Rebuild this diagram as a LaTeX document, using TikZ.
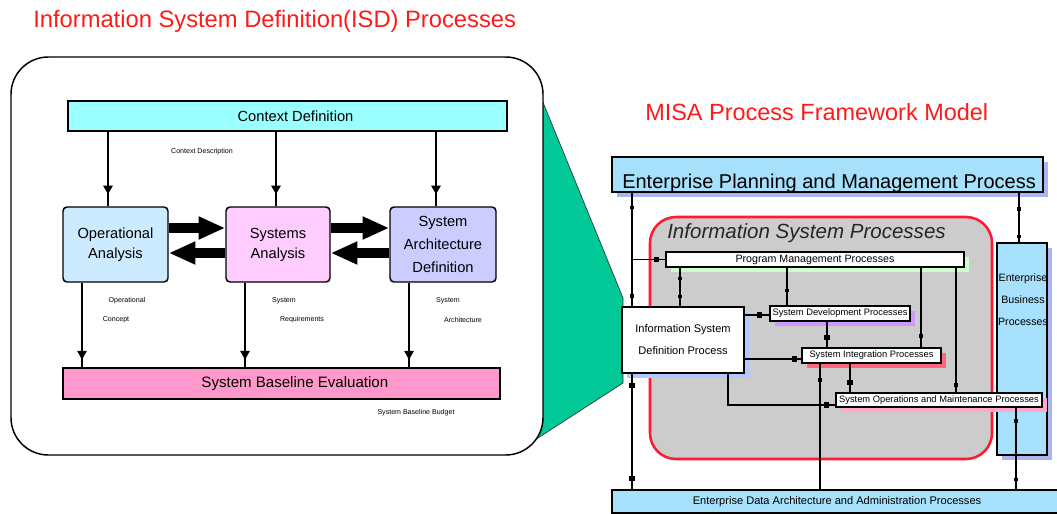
\documentclass[tikz,border=0pt]{standalone}
\usepackage{fontspec}
\setmainfont{Liberation Sans}
\usetikzlibrary{arrows.meta,decorations.markings,shadows}
\newlength\pxu \setlength\pxu{0.75pt}
\newcommand\fsz[2]{\fontsize{#1}{#2}\selectfont}
\definecolor{titlered}{HTML}{FF1A1A}
\definecolor{ctxcyan}{HTML}{99FFFF}
\definecolor{opblue}{HTML}{CCEBFF}
\definecolor{syspink}{HTML}{FFCCFF}
\definecolor{archlav}{HTML}{CCCCFF}
\definecolor{basepink}{HTML}{FF99CC}
\definecolor{sea}{HTML}{00C896}
\definecolor{skyfill}{HTML}{A6E0FA}
\definecolor{skyshade}{HTML}{A8B6F2}
\definecolor{ispgray}{HTML}{CCCCCC}
\definecolor{ispred}{HTML}{FF1A33}
\definecolor{pmshade}{HTML}{CCFFCC}
\definecolor{devshade}{HTML}{CC99FF}
\definecolor{intshade}{HTML}{FF6680}
\definecolor{opsshade}{HTML}{FFAACC}
\definecolor{defshade}{HTML}{B4C8FF}
\tikzset{
  bx/.style={draw=black, line width=1.1pt, inner sep=0pt, align=center},
  lnk/.style={line width=1.1pt},
  dn/.style={lnk, postaction={decorate, decoration={markings,
      mark=at position #1 with {\arrow{Triangle[length=6.5pt,width=7pt]}}}}},
  fat/.style={line width=7.5pt, -{Triangle[length=20pt,width=16pt]}},
  sqs/.style={postaction={decorate, decoration={markings,
      mark=at position #1 with {\fill[black] (-1.9pt,-1.9pt) rectangle (1.9pt,1.9pt);}}}},
  tks/.style={postaction={decorate, decoration={markings,
      mark=at position #1 with {\fill[black] (-1.3pt,-1.3pt) rectangle (1.3pt,1.3pt);}}}},
  tinytxt/.style={font=\fsz{5.3pt}{6pt}, inner sep=0pt},
  shade/.style={drop shadow={shadow xshift=3.5pt, shadow yshift=-3.8pt, fill=#1, opacity=1}},
}
\begin{document}
\begin{tikzpicture}[x=0.75pt,y=-0.75pt]
\useasboundingbox (0,0) rectangle (1057,514);

% headings
\node[font=\fsz{17.8pt}{20pt}, text=titlered, anchor=west, inner sep=0pt] (isdtitle) at (33,21) {Information System Definition(ISD) Processes};
\node[font=\fsz{17.6pt}{20pt}, text=titlered, anchor=west, inner sep=0pt] (misatitle) at (645,112) {MISA Process Framework Model};

% zoom wedge from the panel to the definition process
\draw[fill=sea, draw=black!80, line width=0.5pt] (540,95) -- (623,298) -- (623,383) -- (524,447) -- cycle;

% ISD panel
\node[draw=black, fill=white, line width=1.1pt, rounded corners=28pt, inner sep=0pt,
      minimum width=532\pxu, minimum height=398\pxu] (panel) at (277,256) {};

% ISD process boxes
\node[bx, fill=ctxcyan, minimum width=439\pxu, minimum height=30\pxu,
      label={[xshift=6pt, font=\fsz{11pt}{13pt}]center:Context Definition}] (ctx) at (287.5,116) {};
\node[bx, fill=opblue, rounded corners=3pt, minimum width=105\pxu, minimum height=75\pxu,
      font=\fsz{11pt}{15pt}] (oa) at (115.5,244.5) {Operational\\Analysis};
\node[bx, fill=syspink, rounded corners=3pt, minimum width=104\pxu, minimum height=75\pxu,
      font=\fsz{11pt}{15pt}] (sa) at (278,244.5) {Systems\\Analysis};
\node[bx, fill=archlav, rounded corners=3pt, minimum width=106\pxu, minimum height=75\pxu,
      font=\fsz{11pt}{17pt}] (sad) at (443,244.5) {System\\Architecture\\Definition};
\node[bx, fill=basepink, minimum width=437\pxu, minimum height=31\pxu,
      label={[xshift=10pt, font=\fsz{11.3pt}{13pt}]center:System Baseline Evaluation}] (sbe) at (281.5,383.5) {};

\coordinate (cA) at (108,0);
\coordinate (cB) at (276,0);
\coordinate (cC) at (436,0);
\coordinate (bA) at (82,0);
\coordinate (bB) at (245,0);
\coordinate (bC) at (409,0);
\coordinate (yHi) at (0,228);
\coordinate (yLo) at (0,253);

\draw[dn=0.84] (ctx.south -| cA) -- (oa.north -| cA);
\draw[dn=0.84] (ctx.south -| cB) -- (sa.north -| cB);
\draw[dn=0.84] (ctx.south -| cC) -- (sad.north -| cC);
\draw[dn=0.91] (oa.south -| bA) -- (sbe.north -| bA);
\draw[dn=0.91] (sa.south -| bB) -- (sbe.north -| bB);
\draw[dn=0.91] (sad.south -| bC) -- (sbe.north -| bC);

\draw[fat] (oa.east |- yHi) -- (sa.west |- yHi);
\draw[fat] (sa.west |- yLo) -- (oa.east |- yLo);
\draw[fat] (sa.east |- yHi) -- (sad.west |- yHi);
\draw[fat] (sad.west |- yLo) -- (sa.east |- yLo);

% flow annotations
\node[tinytxt] (lctx) at (202,152) {Context Description};
\node[tinytxt] (lop1) at (127,301) {Operational};
\node[tinytxt] (lop2) at (116,320) {Concept};
\node[tinytxt] (lsr1) at (284,301) {System};
\node[tinytxt] (lsr2) at (302,320) {Requirements};
\node[tinytxt] (lsa1) at (448,301) {System};
\node[tinytxt] (lsa2) at (463,320) {Architecture};
\node[tinytxt] (lsbb) at (416,413) {System Baseline Budget};

% MISA framework
\node[draw=ispred, fill=ispgray, line width=1.9pt, rounded corners=19.5pt, inner sep=0pt,
      minimum width=342\pxu, minimum height=242\pxu] (isp) at (821,338) {};
\node[font=\fsz{15.4pt}{18pt}\itshape, text=black!85, anchor=west, inner sep=0pt] (isptitle) at (667,233) {Information System Processes};

\node[bx, fill=skyfill, shade=skyshade, minimum width=431\pxu, minimum height=35\pxu] (ep) at (827.5,174.5) {};
\node[font=\fsz{15pt}{18pt}, anchor=base west, inner sep=0pt] (eptext) at (622,188) {Enterprise Planning and Management Process};

\node[bx, fill=skyfill, shade=skyshade, minimum width=50\pxu, minimum height=212\pxu] (ebp) at (1022,349) {};
\node[font=\fsz{8pt}{16.5pt}, align=center, inner sep=0pt] (ebptext) at (1023,300) {Enterprise\\Business\\Processes};

\node[bx, fill=white, shade=pmshade, minimum width=298\pxu, minimum height=15\pxu,
      font=\fsz{8pt}{9pt}] (pmp) at (815,259.5) {Program Management Processes};
\node[bx, fill=white, shade=defshade, minimum width=122\pxu, minimum height=66\pxu,
      font=\fsz{8.3pt}{16.5pt}] (isdp) at (683,340) {Information System\\Definition Process};
\node[bx, fill=white, shade=devshade, minimum width=140\pxu, minimum height=15\pxu,
      font=\fsz{7pt}{8pt}] (sdp) at (840,313.5) {System Development Processes};
\node[bx, fill=white, shade=intshade, minimum width=139\pxu, minimum height=15\pxu,
      font=\fsz{7pt}{8pt}] (sip) at (871.5,355.5) {System Integration Processes};
\node[bx, fill=white, shade=opsshade, minimum width=206\pxu, minimum height=14\pxu,
      font=\fsz{7pt}{8pt}] (somp) at (939,400) {System Operations and Maintenance Processes};
\node[bx, fill=skyfill, minimum width=450\pxu, minimum height=23\pxu,
      font=\fsz{8.3pt}{9pt}] (edaa) at (837,501.5) {Enterprise Data Architecture and Administration Processes};

\coordinate (xL) at (632,0);
\coordinate (xP) at (680,0);
\coordinate (xD) at (787,0);
\coordinate (xI) at (921,0);
\coordinate (xO) at (956,0);
\coordinate (xJ) at (728,0);
\coordinate (xK) at (827,0);
\coordinate (xM) at (850,0);
\coordinate (xN) at (820,0);
\coordinate (xR) at (1016,0);
\coordinate (xE) at (1019,0);
\coordinate (yD) at (0,315);
\coordinate (yI) at (0,359);
\coordinate (yJ) at (0,405);

\draw[lnk, tks=0.13, tks=0.91] (ep.south -| xL) -- (isdp.north -| xL);
\draw[lnk, sqs=0.74] (xL |- pmp.west) -- (pmp.west);
\draw[lnk, sqs=0.1, sqs=0.91] (isdp.south -| xL) -- (edaa.north -| xL);
\draw[lnk, tks=0.28, tks=0.75] (pmp.south -| xP) -- (isdp.north -| xP);
\draw[lnk, tks=0.6] (pmp.south -| xD) -- (sdp.north -| xD);
\draw[lnk, tks=0.86] (pmp.south -| xI) -- (sip.north -| xI);
\draw[lnk, tks=0.94] (pmp.south -| xO) -- (somp.north -| xO);
\draw[lnk, sqs=0.62] (isdp.east |- yD) -- (sdp.west |- yD);
\draw[lnk, sqs=0.88] (isdp.east |- yI) -- (sip.west |- yI);
\draw[lnk, sqs=0.94] (isdp.south -| xJ) |- (somp.west |- yJ);
\draw[lnk, sqs=0.63] (sdp.south -| xK) -- (sip.north -| xK);
\draw[lnk, sqs=0.67] (sip.south -| xM) -- (somp.north -| xM);
\draw[lnk, tks=0.13] (sip.south -| xN) -- (edaa.north -| xN);
\draw[lnk, tks=0.16, tks=0.88] (somp.south -| xR) -- (edaa.north -| xR);
\draw[lnk, tks=0.33, tks=0.88] (ep.south -| xE) -- (ebp.north -| xE);
\end{tikzpicture}
\end{document}
